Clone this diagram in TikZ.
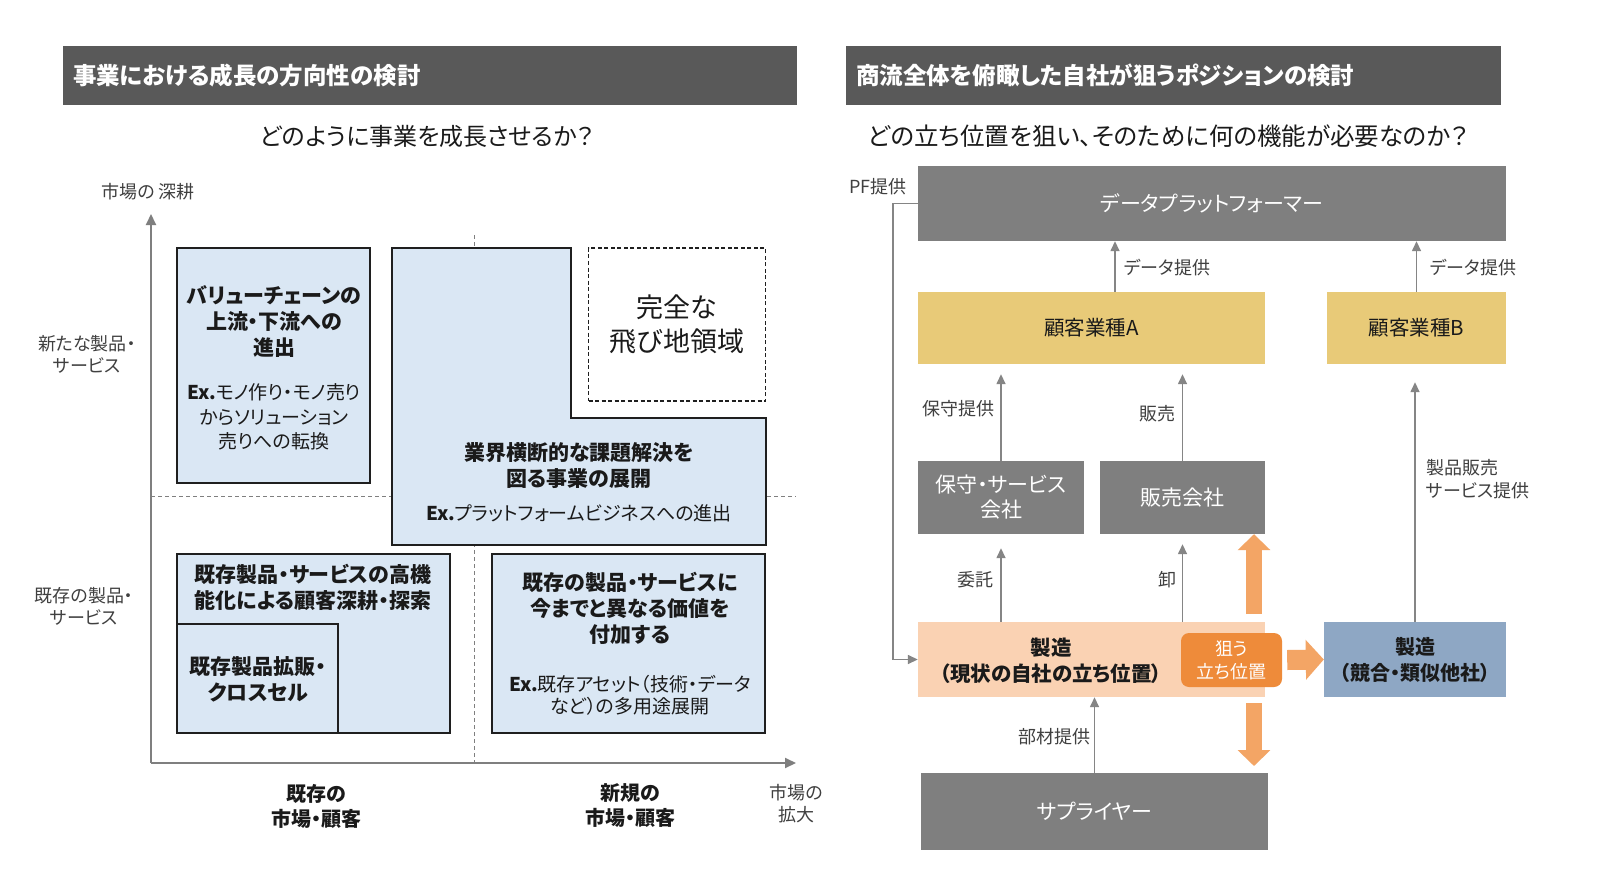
\documentclass[tikz,border=0pt]{standalone}
\usepackage{fontspec}
\setmainfont{Noto Sans CJK JP}[RawFeature={+palt}]
\usetikzlibrary{arrows.meta}

\definecolor{barGray}{HTML}{595959}
\definecolor{quadBlue}{HTML}{DAE7F4}
\definecolor{boxLine}{HTML}{1F1F1F}
\definecolor{axGray}{HTML}{7F7F7F}
\definecolor{labGray}{HTML}{404040}
\definecolor{txtDark}{HTML}{1A1A1A}
\definecolor{blkGray}{HTML}{7F7F7F}
\definecolor{custGold}{HTML}{E8CA78}
\definecolor{peach}{HTML}{FAD2B3}
\definecolor{targetOrange}{HTML}{EE8B3A}
\definecolor{fatOrange}{HTML}{F3A565}
\definecolor{compBlue}{HTML}{8EA7C4}
\definecolor{flowGray}{HTML}{858585}

\newcommand{\fsz}[2]{\fontsize{#1}{#2}\selectfont}

\begin{document}
\begin{tikzpicture}[x=1pt,y=-1pt,
  every node/.style={inner sep=0pt},
  bar/.style={fill=barGray, text=white, minimum height=59pt, font=\fsz{23.5}{28}\bfseries},
  quad/.style={draw=boxLine, line width=1.6pt, fill=quadBlue},
  axis/.style={draw=axGray, line width=2pt, -{Triangle[length=11pt,width=10pt]}},
  guide/.style={draw=axGray, line width=1pt, dash pattern=on 4pt off 3pt},
  axlab/.style={text=labGray, align=center, font=\fsz{18}{22}},
  axhead/.style={text=txtDark, align=center, font=\fsz{20}{25}\bfseries},
  qhead/.style={align=center, font=\fsz{21}{26}\bfseries, text=txtDark},
  qnote/.style={align=center, font=\fsz{19}{24.5}, text=txtDark},
  blk/.style={fill=blkGray, text=white, align=center, font=\fsz{21}{25}},
  cust/.style={fill=custGold, text=txtDark, font=\fsz{20.5}{25}},
  flow/.style={draw=flowGray, line width=1.5pt, -{Triangle[length=10pt,width=9pt]}},
  fat/.style={draw=fatOrange, line width=16pt, -{Triangle[length=16pt,width=32pt]}},
  flab/.style={text=labGray, font=\fsz{18}{23}}
]
\useasboundingbox[fill=white] (0,0) rectangle (1600,869);

% headers
\node[bar, minimum width=734pt, text width=714pt, align=left] (hdrL) at (430,75.5) {事業における成長の方向性の検討};
\node[bar, minimum width=655pt, text width=635pt, align=left] (hdrR) at (1173.5,75.5) {商流全体を俯瞰した自社が狙うポジションの検討};
\node[text=txtDark, font=\fsz{24}{28}] (subL) at (427,136) {どのように事業を成長させるか？};
\node[text=txtDark, font=\fsz{24.5}{28}] (subR) at (1168,136) {どの立ち位置を狙い、そのために何の機能が必要なのか？};

% growth matrix
\coordinate (o) at (151,763);
\coordinate (yTip) at (151,214);
\coordinate (xTip) at (796,763);
\coordinate (vTop) at (474,235);
\coordinate (hEnd) at (796,496);
\draw[guide] (vTop) -- (vTop |- o);
\draw[guide] (o |- hEnd) -- (hEnd);
\draw[axis] (o) -- (yTip);
\draw[axis] (o) -- (xTip);

\node[axlab] (yName) at (148,192) {市場の 深耕};
\node[axlab] (yNew) at (87,354) {新たな製品・\\サービス};
\node[axlab] (yOld) at (84,606) {既存の製品・\\サービス};
\node[axhead] (xOld) at (316,806) {既存の\\市場・顧客};
\node[axhead] (xNew) at (630,806) {新規の\\市場・顧客};
\node[axlab] (xName) at (796,804) {市場の\\拡大};

\node[quad, minimum width=193pt, minimum height=235pt] (chain) at (273.5,365.5) {};
\node[qhead] (chainT) at (274,322) {バリューチェーンの\\上流・下流への\\進出};
\node[qnote] (chainN) at (274,417) {{\bfseries Ex.}モノ作り・モノ売り\\からソリューション\\売りへの転換};

\draw[quad] (392,248) -- (571,248) -- (571,418) -- (766,418) -- (766,545) -- (392,545) -- cycle;
\node[qhead] (crossT) at (579,466) {業界横断的な課題解決を\\図る事業の展開};
\node[qnote] (crossN) at (579,513) {{\bfseries Ex.}プラットフォームビジネスへの進出};

\node[draw=boxLine, line width=1.6pt, dash pattern=on 4pt off 2.5pt, fill=white,
  minimum width=177pt, minimum height=153pt, align=center, text=txtDark,
  font=\fsz{27}{34}] (tobichi) at (677,324.5) {完全な\\飛び地領域};

\node[quad, minimum width=273pt, minimum height=179pt] (deep) at (313.5,643.5) {};
\node[qhead] (deepT) at (313,587) {既存製品・サービスの高機\\能化による顧客深耕・探索};
\node[quad, minimum width=161pt, minimum height=109pt] (cross) at (257.5,678.5) {};
\node[qhead] (crossS) at (258,679) {既存製品拡販・\\クロスセル};

\node[quad, minimum width=273pt, minimum height=179pt] (value) at (628.5,643.5) {};
\node[qhead] (valueT) at (630,608) {既存の製品・サービスに\\今までと異なる価値を\\付加する};
\node[qnote, font=\fsz{19}{22}] (valueN) at (630,695) {{\bfseries Ex.}既存アセット（技術・データ\\など）の多用途展開};

% commercial flow
\node[blk, minimum width=588pt, minimum height=75pt] (dataPF) at (1212,203.5) {データプラットフォーマー};
\node[cust, minimum width=347pt, minimum height=72pt] (custA) at (1091.5,328) {顧客業種A};
\node[cust, minimum width=179pt, minimum height=72pt] (custB) at (1416.5,328) {顧客業種B};
\node[blk, minimum width=166pt, minimum height=73pt] (svc) at (1001,497.5) {保守・サービス\\会社};
\node[blk, minimum width=165pt, minimum height=73pt] (sales) at (1182.5,497.5) {販売会社};
\node[fill=peach, minimum width=347pt, minimum height=75pt] (mfg) at (1091.5,659.5) {};
\node[text=txtDark, align=center, font=\fsz{20.5}{26}\bfseries] (mfgT) at (1051,661) {製造\\（現状の自社の立ち位置）};
\node[fill=targetOrange, rounded corners=8pt, minimum width=101pt, minimum height=54pt,
  text=white, align=center, font=\fsz{18}{23}] (target) at (1231.5,660) {狙う\\立ち位置};
\node[fill=compBlue, minimum width=182pt, minimum height=75pt, text=txtDark,
  align=center, font=\fsz{20}{26}\bfseries] (comp) at (1415,659.5) {製造\\（競合・類似他社）};
\node[blk, minimum width=347pt, minimum height=77pt] (supp) at (1094.5,811.5) {サプライヤー};

\node[flab] (pfLab) at (878,187) {PF提供};
\draw[flow] (dataPF.west) -- ++(-25,0) |- (mfg.west);

\coordinate (dA) at ([xshift=23.5pt]custA.north);
\draw[flow] (dA) -- (dA |- dataPF.south);
\node[flab, anchor=west] (dALab) at (1124,268) {データ提供};
\draw[flow] (custB.north) -- (custB.north |- dataPF.south);
\node[flab, anchor=west] (dBLab) at (1430,268) {データ提供};

\draw[flow, shorten >=10pt] (svc.north) -- (svc.north |- custA.south);
\node[flab, anchor=east] (svcLab) at (995,409) {保守提供};
\draw[flow, shorten >=10pt] (sales.north) -- (sales.north |- custA.south);
\node[flab, anchor=east] (salesLab) at (1176,414) {販売};

\draw[flow, shorten >=14pt] (svc.south |- mfg.north) -- (svc.south);
\node[flab, anchor=east] (entLab) at (994,580) {委託};
\draw[flow, shorten >=10pt] (sales.south |- mfg.north) -- (sales.south);
\node[flab, anchor=east] (whLab) at (1177,580) {卸};

\draw[flow, shorten >=18pt] (comp.north) -- (comp.north |- custB.south);
\node[flab, anchor=west, align=left] (compLab) at (1426,479) {製品販売\\サービス提供};

\draw[flow] (supp.north) -- (supp.north |- mfg.south);
\node[flab, anchor=east] (suppLab) at (1091,737) {部材提供};

\coordinate (upFrom) at (1254,614);
\draw[fat] (upFrom) -- (upFrom |- sales.south);
\coordinate (dnFrom) at (1254,703);
\coordinate (dnTo) at (1254,766);
\draw[fat] (dnFrom) -- (dnTo);
\draw[fat, line width=20pt, -{Triangle[length=18pt,width=39pt]}] ([xshift=5pt]target.east) -- (comp.west);
\end{tikzpicture}
\end{document}
